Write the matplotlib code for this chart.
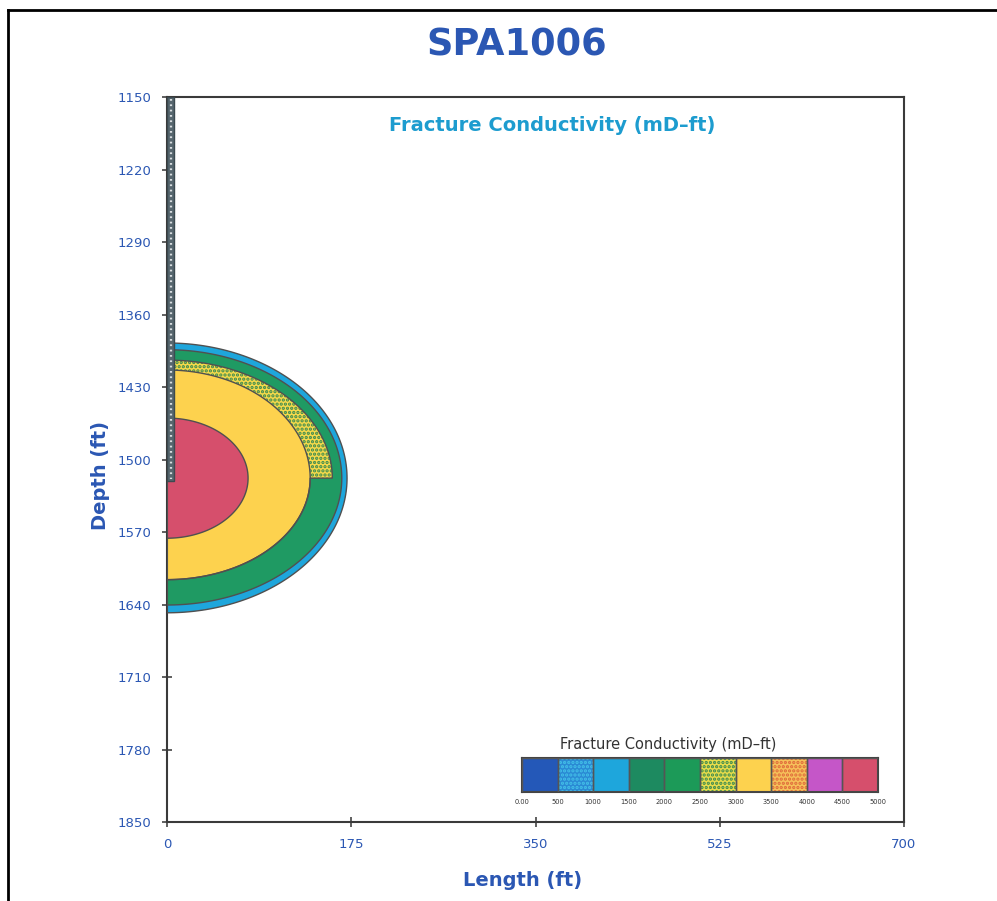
import numpy as np
import matplotlib
matplotlib.use("Agg")
import matplotlib.pyplot as plt
from matplotlib.patches import Polygon, Rectangle
from matplotlib.lines import Line2D

# ---------------- data ----------------
title = "SPA1006"
x_ticks = [0, 175, 350, 525, 700]
y_ticks = [1150, 1220, 1290, 1360, 1430, 1500, 1570, 1640, 1710, 1780, 1850]

# fracture conductivity contours (outermost first)
center_depth = 1518
contour_names = ["1000-1500", "1500-2000", "2500-3000", "3000-3500", "5000"]
x_extent_upper = [171, 166, 157, 136, 77]
x_extent_lower = [171, 166, 136, 136, 77]
top_depth = [1387.5, 1394, 1404, 1413.6, 1460]
bottom_depth = [1648, 1640.5, 1616, 1616, 1576]
contour_fill = ["#1ea6dc", "#1f9a63", "#f6d94a", "#fdd24e", "#d64f6c"]
contour_dots = [None, None, "#3a8a50", None, None]

wellbore_top = 1150
wellbore_bottom = 1521

legend_values = ["0.00", "500", "1000", "1500", "2000", "2500", "3000", "3500", "4000", "4500", "5000"]
legend_fill = ["#2458b8", "#2a8ad4", "#1ea6dc", "#1d8a60", "#1c9a58",
               "#e8dc4a", "#fdd24e", "#f6c15a", "#c556c8", "#d64f6c"]
legend_dots = [None, "#43c0e8", None, None, None, "#3a8a50", None, "#e06a3a", None, None]

blue = "#2b57b3"
cyan = "#1d9ccf"

plt.rcParams["hatch.linewidth"] = 1.6

fig = plt.figure(figsize=(9.97, 9.01), dpi=100)
ax = fig.add_axes([167/997, 1-822/901, 737/997, 725/901])
ax.set_xlim(0, 700)
ax.set_ylim(1850, 1150)

def half_shape(xu, xl, top, bot, c):
    t1 = np.linspace(np.pi/2, 0, 80)
    t2 = np.linspace(0, -np.pi/2, 80)
    up = np.column_stack([xu*np.cos(t1), c-(c-top)*np.sin(t1)])
    lo = np.column_stack([xl*np.cos(t2), c-(bot-c)*np.sin(t2)])
    if xu != xl:
        mid = np.array([[xl, c]])
        pts = np.vstack([[[0, top]], up, [[xu, c]], mid, lo, [[0, bot]]])
    else:
        pts = np.vstack([up, lo])
    return pts

for xu, xl, tp, bt, fc, dc in zip(x_extent_upper, x_extent_lower, top_depth,
                                  bottom_depth, contour_fill, contour_dots):
    pts = half_shape(xu, xl, tp, bt, center_depth)
    ax.add_patch(Polygon(pts, closed=True, facecolor=fc, edgecolor="none", zorder=2))
    if dc:
        ax.add_patch(Polygon(pts, closed=True, facecolor="none", edgecolor=dc,
                             hatch="....", linewidth=0, zorder=2))
    ax.add_patch(Polygon(pts, closed=True, facecolor="none", edgecolor="#505050",
                         linewidth=1.0, zorder=3))

# wellbore
ax.add_patch(Rectangle((0, wellbore_top), 7, wellbore_bottom - wellbore_top,
                       facecolor="#56666e", edgecolor="#3c4a50", linewidth=1, zorder=4))
ax.add_line(Line2D([3.5, 3.5], [wellbore_top + 2, wellbore_bottom - 2], color="#d8dde0",
                   linewidth=1.6, linestyle=(0, (0.8, 1.6)), zorder=5))

ax.set_xticks(x_ticks)
ax.set_yticks(y_ticks)
ax.set_xticklabels([str(v) for v in x_ticks])
ax.set_yticklabels([str(v) for v in y_ticks])
ax.tick_params(axis="both", colors="#444444", labelcolor=blue, labelsize=9.5,
               direction="inout", length=7, width=1.2)
ax.tick_params(axis="x", pad=8)
ax.tick_params(axis="y", pad=8)
for s in ax.spines.values():
    s.set_color("#3a3a3a")
    s.set_linewidth(1.5)

ax.text(0.522, 0.961, "Fracture Conductivity (mD\u2013ft)", transform=ax.transAxes,
        ha="center", va="center", color=cyan, fontsize=14, fontweight="bold")

fig.text(517/997, 1-45/901, title, ha="center", va="center", color=blue,
         fontsize=26.5, fontweight="bold")
fig.text(100/997, 1-475/901, "Depth (ft)", ha="center", va="center", rotation=90,
         color=blue, fontsize=14, fontweight="bold")
fig.text(523/997, 1-881/901, "Length (ft)", ha="center", va="center",
         color=blue, fontsize=14, fontweight="bold")

# legend bar
lax = fig.add_axes([522/997, 1-792/901, 356/997, 34/901])
n = len(legend_fill)
for i, (fc, dc) in enumerate(zip(legend_fill, legend_dots)):
    lax.bar(i, 1, width=1, align="edge", color=fc, edgecolor="none", zorder=1)
    if dc:
        lax.bar(i, 1, width=1, align="edge", color="none", edgecolor=dc,
                hatch="....", linewidth=0, zorder=2)
    lax.bar(i, 1, width=1, align="edge", color="none", edgecolor="#555555",
            linewidth=1.0, zorder=3)
lax.set_xlim(0, n)
lax.set_ylim(0, 1)
lax.set_yticks([])
lax.set_xticks(range(n + 1))
lax.set_xticklabels(legend_values)
lax.tick_params(axis="x", length=0, labelsize=4.8, labelcolor="#333333", pad=5)
for s in lax.spines.values():
    s.set_color("#444444")
    s.set_linewidth(1.5)
fig.text(668/997, 1-744/901, "Fracture Conductivity (mD\u2013ft)", ha="center", va="center",
         color="#333333", fontsize=10.5)

# page border (left and top)
fig.add_artist(Line2D([8/997, 8/997], [0, 1-10/901], transform=fig.transFigure,
                      color="black", linewidth=2))
fig.add_artist(Line2D([8/997, 1], [1-10/901, 1-10/901], transform=fig.transFigure,
                      color="black", linewidth=2))

fig.savefig("out.png", dpi=100)
